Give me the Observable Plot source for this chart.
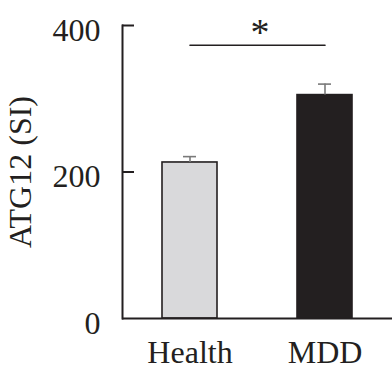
<!DOCTYPE html>
<html>
<head>
<meta charset="utf-8">
<script src="https://cdn.jsdelivr.net/npm/d3@7"></script>
<script src="https://cdn.jsdelivr.net/npm/@observablehq/plot@0.6"></script>
<style>
  html, body { margin: 0; padding: 0; background: #fff; }
  #chart svg { display: block; }
</style>
</head>
<body>
<div id="chart"></div>
<script>
const groups = ["Health", "MDD"];
const means = [213, 305];
const errors = [8, 15];
const yTicks = [0, 200, 400];
const yLabel = "ATG12 (SI)";
const sigLevel = 373;
const sigMark = "*";

const fills = {Health: "#d9d9db", MDD: "#231f20"};
const data = groups.map((g, i) => ({group: g, mean: means[i], err: errors[i]}));
const ink = "#231f20";
const font = "'Liberation Serif', 'Times New Roman', serif";

const chart = Plot.plot({
  width: 392,
  height: 378,
  marginLeft: 122,
  marginRight: 0,
  marginTop: 25,
  marginBottom: 60,
  style: {fontFamily: font, background: "#fff"},
  x: {domain: groups, paddingInner: 0.594, paddingOuter: 0.29, label: null},
  y: {domain: [0, 400], label: null},
  marks: [
    Plot.barY(data, {x: "group", y: "mean", fill: d => fills[d.group], stroke: ink, strokeWidth: 1.6}),
    Plot.ruleX(data, {x: "group", y1: "mean", y2: d => d.mean + d.err, stroke: "#7a7a7a", strokeWidth: 1.6}),
    Plot.tickY(data, {x: "group", y: d => d.mean + d.err, stroke: "#7a7a7a", strokeWidth: 1.6, insetLeft: 21, insetRight: 21}),
    Plot.lineY([{g: groups[0], y: sigLevel}, {g: groups[1], y: sigLevel}], {x: "g", y: "y", stroke: ink, strokeWidth: 1.6}),
    Plot.text([{a: groups[0], y: sigLevel}], {x: d => d.a, y: "y", text: () => sigMark, fontSize: 38, fill: ink, dx: 70, dy: -12, fontFamily: font}),
    Plot.frame({anchor: "left", stroke: ink, strokeWidth: 2}),
    Plot.ruleY([0], {stroke: ink, strokeWidth: 2}),
    Plot.tickY(yTicks.filter(v => v > 0), {y: d => d, stroke: ink, strokeWidth: 2, insetRight: 392 - 122 - 12}),
    Plot.axisY({ticks: yTicks, tickSize: 0, tickPadding: 22, fontSize: 32, dy: 5, label: yLabel, labelAnchor: "center", labelOffset: 114, labelArrow: "none", color: ink}),
    Plot.axisX({tickSize: 0, tickPadding: 22, fontSize: 32, label: null, color: ink})
  ]
});
document.getElementById("chart").appendChild(chart);
</script>
</body>
</html>
